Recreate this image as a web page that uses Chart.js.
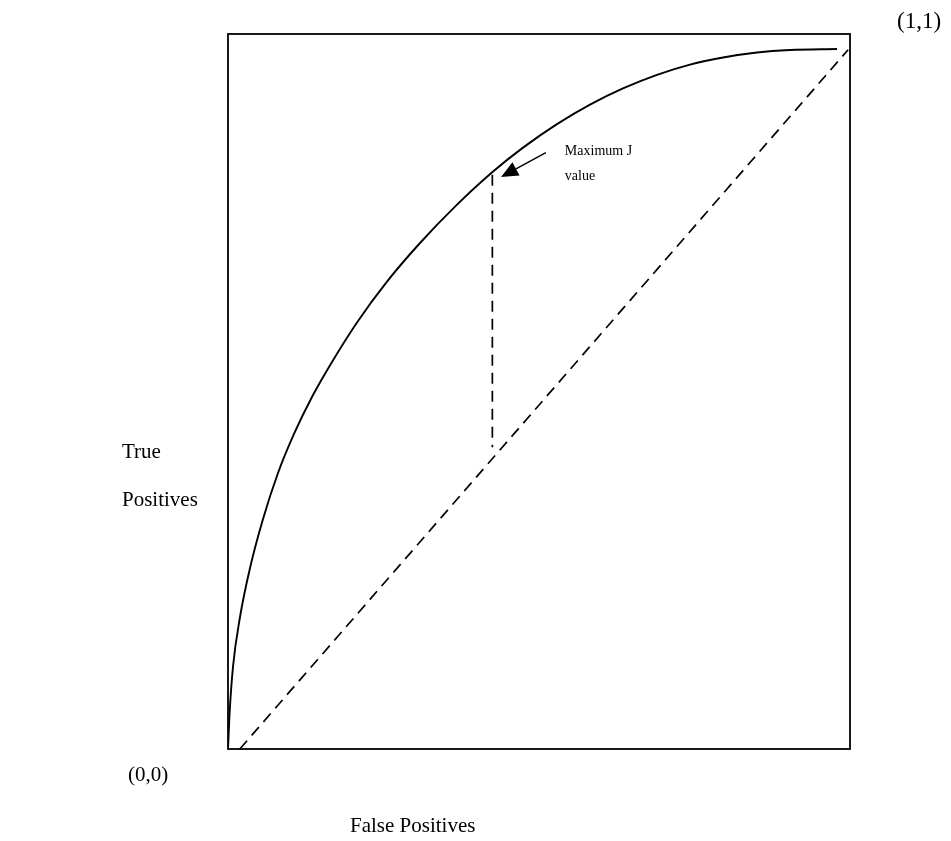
<!DOCTYPE html>
<html>
<head>
<meta charset="utf-8">
<script src="https://cdn.jsdelivr.net/npm/chart.js@4.4.1/dist/chart.umd.min.js"></script>
<style>
  html, body { margin: 0; padding: 0; background: #fff; }
  #wrap { position: relative; width: 951px; height: 841px; }
</style>
</head>
<body>
<div id="wrap"><canvas id="roc"></canvas></div>
<script>
// ─── Data ────────────────────────────────────────────────────────────────────

// ROC curve: false positive rate vs true positive rate
const rocFpr = [0, 0.0024, 0.0080, 0.0193, 0.0354, 0.0563, 0.0804, 0.1061, 0.1350, 0.1672,
  0.2074, 0.2556, 0.3087, 0.3666, 0.4252, 0.4743, 0.5289, 0.5820, 0.6350, 0.6897,
  0.7428, 0.7958, 0.8505, 0.9035, 0.9791];
const rocTpr = [0, 0.0476, 0.1147, 0.1846, 0.2531, 0.3217, 0.3860, 0.4406, 0.4923, 0.5413,
  0.5966, 0.6537, 0.7077, 0.7600, 0.8070, 0.8411, 0.8740, 0.9013, 0.9239, 0.9429,
  0.9572, 0.9671, 0.9741, 0.9776, 0.9790];

// chance diagonal
const chanceFpr = [0.019, 0.997];
const chanceTpr = [0, 0.978];

// vertical J line at the optimal cut-off
const jFpr = [0.425, 0.425];
const jTpr = [0.803, 0.422];

// annotation arrow (tail -> head)
const arrowFrom = [0.511, 0.834];
const arrowTo = [0.439, 0.800];

const SERIF = '"Liberation Serif", "Times New Roman", serif';

const pts = (xs, ys) => xs.map((x, i) => ({ x, y: ys[i] }));

// ─── Plugin: frame, arrow, labels ────────────────────────────────────────────

const decorations = {
  id: 'decorations',
  afterDatasetsDraw(chart) {
    const { ctx, chartArea: a, scales } = chart;
    ctx.save();

    // frame
    ctx.strokeStyle = '#000';
    ctx.lineWidth = 1.8;
    ctx.strokeRect(a.left, a.top, a.right - a.left, a.bottom - a.top);

    // arrow
    const x1 = scales.x.getPixelForValue(arrowFrom[0]);
    const y1 = scales.y.getPixelForValue(arrowFrom[1]);
    const x2 = scales.x.getPixelForValue(arrowTo[0]);
    const y2 = scales.y.getPixelForValue(arrowTo[1]);
    const ang = Math.atan2(y2 - y1, x2 - x1);
    const headLen = 17, headW = 7.5;
    const bx = x2 - headLen * Math.cos(ang), by = y2 - headLen * Math.sin(ang);
    ctx.lineWidth = 1.5;
    ctx.beginPath();
    ctx.moveTo(x1, y1);
    ctx.lineTo(bx, by);
    ctx.stroke();
    ctx.fillStyle = '#000';
    ctx.beginPath();
    ctx.moveTo(x2, y2);
    ctx.lineTo(bx + headW * Math.sin(ang), by - headW * Math.cos(ang));
    ctx.lineTo(bx - headW * Math.sin(ang), by + headW * Math.cos(ang));
    ctx.closePath();
    ctx.fill();

    // text
    ctx.fillStyle = '#000';
    ctx.textBaseline = 'middle';
    ctx.textAlign = 'left';
    ctx.font = '21px ' + SERIF;
    ctx.fillText('(0,0)', a.left - 100, a.bottom + 26);
    ctx.fillText('False Positives', a.left + 122, a.bottom + 77);
    ctx.fillText('True', a.left - 106, 452);
    ctx.fillText('Positives', a.left - 106, 500);
    ctx.font = '23px ' + SERIF;
    ctx.fillText('(1,1)', a.right + 47, a.top - 12);

    ctx.font = '14px ' + SERIF;
    ctx.fillText('Maximum J', x1 + 19, y1 - 1);
    ctx.fillText('value', x1 + 19, y1 + 24);

    ctx.restore();
  },
};

// ─── Chart ───────────────────────────────────────────────────────────────────

new Chart(document.getElementById('roc'), {
  type: 'scatter',
  data: {
    datasets: [
      {
        data: pts(rocFpr, rocTpr),
        showLine: true,
        borderColor: '#000',
        borderWidth: 1.9,
        pointRadius: 0,
        cubicInterpolationMode: 'monotone',
      },
      {
        data: pts(chanceFpr, chanceTpr),
        showLine: true,
        borderColor: '#000',
        borderWidth: 1.7,
        borderDash: [11, 7],
        pointRadius: 0,
      },
      {
        data: pts(jFpr, jTpr),
        showLine: true,
        borderColor: '#000',
        borderWidth: 1.7,
        borderDash: [11, 7],
        pointRadius: 0,
      },
    ],
  },
  options: {
    responsive: true,
    maintainAspectRatio: false,
    animation: false,
    layout: { padding: { left: 228, top: 34, right: 101, bottom: 92 } },
    plugins: { legend: { display: false }, tooltip: { enabled: false } },
    scales: {
      x: { type: 'linear', min: 0, max: 1, display: false },
      y: { type: 'linear', min: 0, max: 1, display: false },
    },
  },
  plugins: [decorations],
});
</script>
</body>
</html>
